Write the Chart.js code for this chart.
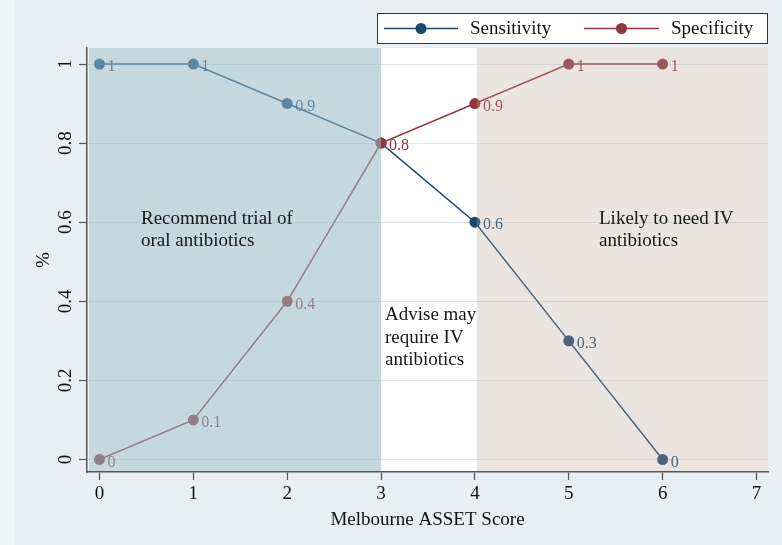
<!DOCTYPE html>
<html><head><meta charset="utf-8">
<script src="https://cdn.jsdelivr.net/npm/chart.js@4.4.1/dist/chart.umd.min.js"></script>
<style>html,body{margin:0;padding:0;background:#e8eff2;overflow:hidden}#wrap{width:782px;height:545px;position:relative}</style>
</head><body><div id="wrap"><canvas id="c" width="782" height="545"></canvas></div>
<script>
// ---- data ----
const scores = [0, 1, 2, 3, 4, 5, 6];
const sensitivity = [1, 1, 0.9, 0.8, 0.6, 0.3, 0];
const specificity = [0, 0.1, 0.4, 0.8, 0.9, 1, 1];
const yTickValues = [0, 0.2, 0.4, 0.6, 0.8, 1];
const xTickValues = [0, 1, 2, 3, 4, 5, 6, 7];
const seriesNames = ['Sensitivity', 'Specificity'];
const xTitle = 'Melbourne ASSET Score';
const yTitle = '%';
const zoneLabels = [
  ['Recommend trial of', 'oral antibiotics'],
  ['Advise may', 'require IV', 'antibiotics'],
  ['Likely to need IV', 'antibiotics']
];
const zoneRanges = [[null, 3], [4.02, null]];

// ---- styling / layout ----
const FONT = '"Liberation Serif", "Times New Roman", serif';
const NAVY = '#1a476f', MAROON = '#90353b';
const zoneFills = ['rgba(150,184,197,0.55)', 'rgba(190,170,160,0.30)'];
const zoneTextAnchors = [{x: 0.442, y: 0.5955}, {x: 3.042, y: 0.3527}, {x: 5.322, y: 0.5955}];

const bgPlugin = {
  id: 'bg',
  beforeDraw(chart) {
    const {ctx, chartArea: a} = chart;
    ctx.save();
    ctx.fillStyle = '#e8eff2';
    ctx.fillRect(0, 0, chart.width, chart.height);
    ctx.fillStyle = '#eef3f5';
    ctx.fillRect(0, 0, 15, chart.height);
    ctx.fillStyle = '#ffffff';
    ctx.fillRect(a.left + 2, a.top, a.right - a.left - 2, a.bottom - a.top);
    ctx.restore();
  }
};

const overlayPlugin = {
  id: 'overlay',
  afterDatasetsDraw(chart) {
    const {ctx, chartArea: a, scales: {x, y}} = chart;
    ctx.save();
    // point value labels
    ctx.font = '16px ' + FONT;
    ctx.textAlign = 'left';
    ctx.textBaseline = 'middle';
    const other = [specificity, sensitivity];
    chart.data.datasets.forEach((ds, di) => {
      ctx.fillStyle = ds.borderColor;
      ds.data.forEach((p, i) => {
        if (di === 0 && other[0][i] === p.y) return; // hidden under the coincident label
        ctx.fillText(String(p.y), x.getPixelForValue(p.x) + 8, y.getPixelForValue(p.y) + 3);
      });
    });
    // shaded zones (drawn over data like the original)
    zoneRanges.forEach((r, i) => {
      const l = r[0] === null ? a.left + 2 : x.getPixelForValue(r[0]);
      const rr = r[1] === null ? a.right : x.getPixelForValue(r[1]);
      ctx.fillStyle = zoneFills[i];
      ctx.fillRect(l, a.top, rr - l, a.bottom - a.top - 1);
    });
    // zone texts
    ctx.fillStyle = '#161616';
    ctx.font = '19px ' + FONT;
    ctx.textBaseline = 'alphabetic';
    zoneLabels.forEach((lines, i) => {
      const px = x.getPixelForValue(zoneTextAnchors[i].x);
      const py = y.getPixelForValue(zoneTextAnchors[i].y);
      lines.forEach((t, k) => ctx.fillText(t, px, py + k * 22.5));
    });
    ctx.restore();
  },
  afterDraw(chart) {
    const {ctx, scales: {y}} = chart;
    ctx.save();
    // rotated y tick labels
    ctx.fillStyle = '#111';
    ctx.font = '19px ' + FONT;
    ctx.textAlign = 'center';
    ctx.textBaseline = 'middle';
    yTickValues.forEach(v => {
      ctx.save();
      ctx.translate(66, y.getPixelForValue(v));
      ctx.rotate(-Math.PI / 2);
      ctx.fillText(String(v), 0, 0);
      ctx.restore();
    });
    // legend box
    const L = 377, T = 13, R = 768, B = 44, cy = 28.5;
    ctx.fillStyle = '#fff';
    ctx.fillRect(L, T, R - L, B - T);
    ctx.strokeStyle = '#333';
    ctx.lineWidth = 1;
    ctx.strokeRect(L + 0.5, T + 0.5, R - L - 1, B - T - 1);
    const items = [{x0: 384, x1: 458, c: NAVY, tx: 470}, {x0: 584, x1: 659, c: MAROON, tx: 671}];
    items.forEach((it, i) => {
      ctx.strokeStyle = it.c;
      ctx.lineWidth = 1.5;
      ctx.beginPath(); ctx.moveTo(it.x0, cy); ctx.lineTo(it.x1, cy); ctx.stroke();
      ctx.fillStyle = it.c;
      ctx.beginPath(); ctx.arc((it.x0 + it.x1) / 2, cy, 5.5, 0, Math.PI * 2); ctx.fill();
      ctx.fillStyle = '#111';
      ctx.textAlign = 'left';
      ctx.font = '19px ' + FONT;
      ctx.fillText(seriesNames[i], it.tx, cy + 1);
    });
    ctx.restore();
  }
};

const toPts = arr => arr.map((v, i) => ({x: scores[i], y: v}));

new Chart(document.getElementById('c'), {
  type: 'line',
  data: {
    datasets: [
      {label: seriesNames[0], data: toPts(sensitivity), borderColor: NAVY, backgroundColor: NAVY, order: 1,
       pointBackgroundColor: NAVY, pointBorderWidth: 0, pointRadius: 5.5, borderWidth: 1.5, tension: 0},
      {label: seriesNames[1], data: toPts(specificity), borderColor: MAROON, backgroundColor: MAROON, order: 0,
       pointBackgroundColor: MAROON, pointBorderWidth: 0, pointRadius: 5.5, borderWidth: 1.5, tension: 0}
    ]
  },
  options: {
    responsive: false,
    animation: false,
    devicePixelRatio: 1,
    layout: {padding: {left: 0, top: 48, right: 14, bottom: 0}},
    plugins: {legend: {display: false}, tooltip: {enabled: false}},
    scales: {
      x: {
        type: 'linear', min: -0.133, max: 7.1225,
        afterBuildTicks: s => { s.ticks = xTickValues.map(v => ({value: v})); },
        afterFit: s => { s.height = 73; },
        grid: {drawOnChartArea: false, tickLength: 8, tickColor: '#555', tickWidth: 1.2},
        border: {color: '#555', width: 1.5},
        ticks: {color: '#111', font: {size: 19, family: FONT}, padding: 3, maxRotation: 0, autoSkip: false},
        title: {display: true, text: xTitle, color: '#111', font: {size: 19, family: FONT}, padding: {top: 0, bottom: 13.6}}
      },
      y: {
        type: 'linear', min: -0.0316, max: 1.0405,
        afterBuildTicks: s => { s.ticks = yTickValues.map(v => ({value: v})); },
        afterFit: s => { s.width = 87; },
        grid: {color: 'rgba(195,212,220,0.6)', lineWidth: 1, tickLength: 8, tickColor: '#555', tickWidth: 1.2},
        border: {color: '#555', width: 1.5},
        ticks: {display: false},
        title: {display: true, text: yTitle, color: '#111', font: {size: 19, family: FONT}, padding: {top: 32.6, bottom: 0}}
      }
    }
  },
  plugins: [bgPlugin, overlayPlugin]
});
</script></body></html>
